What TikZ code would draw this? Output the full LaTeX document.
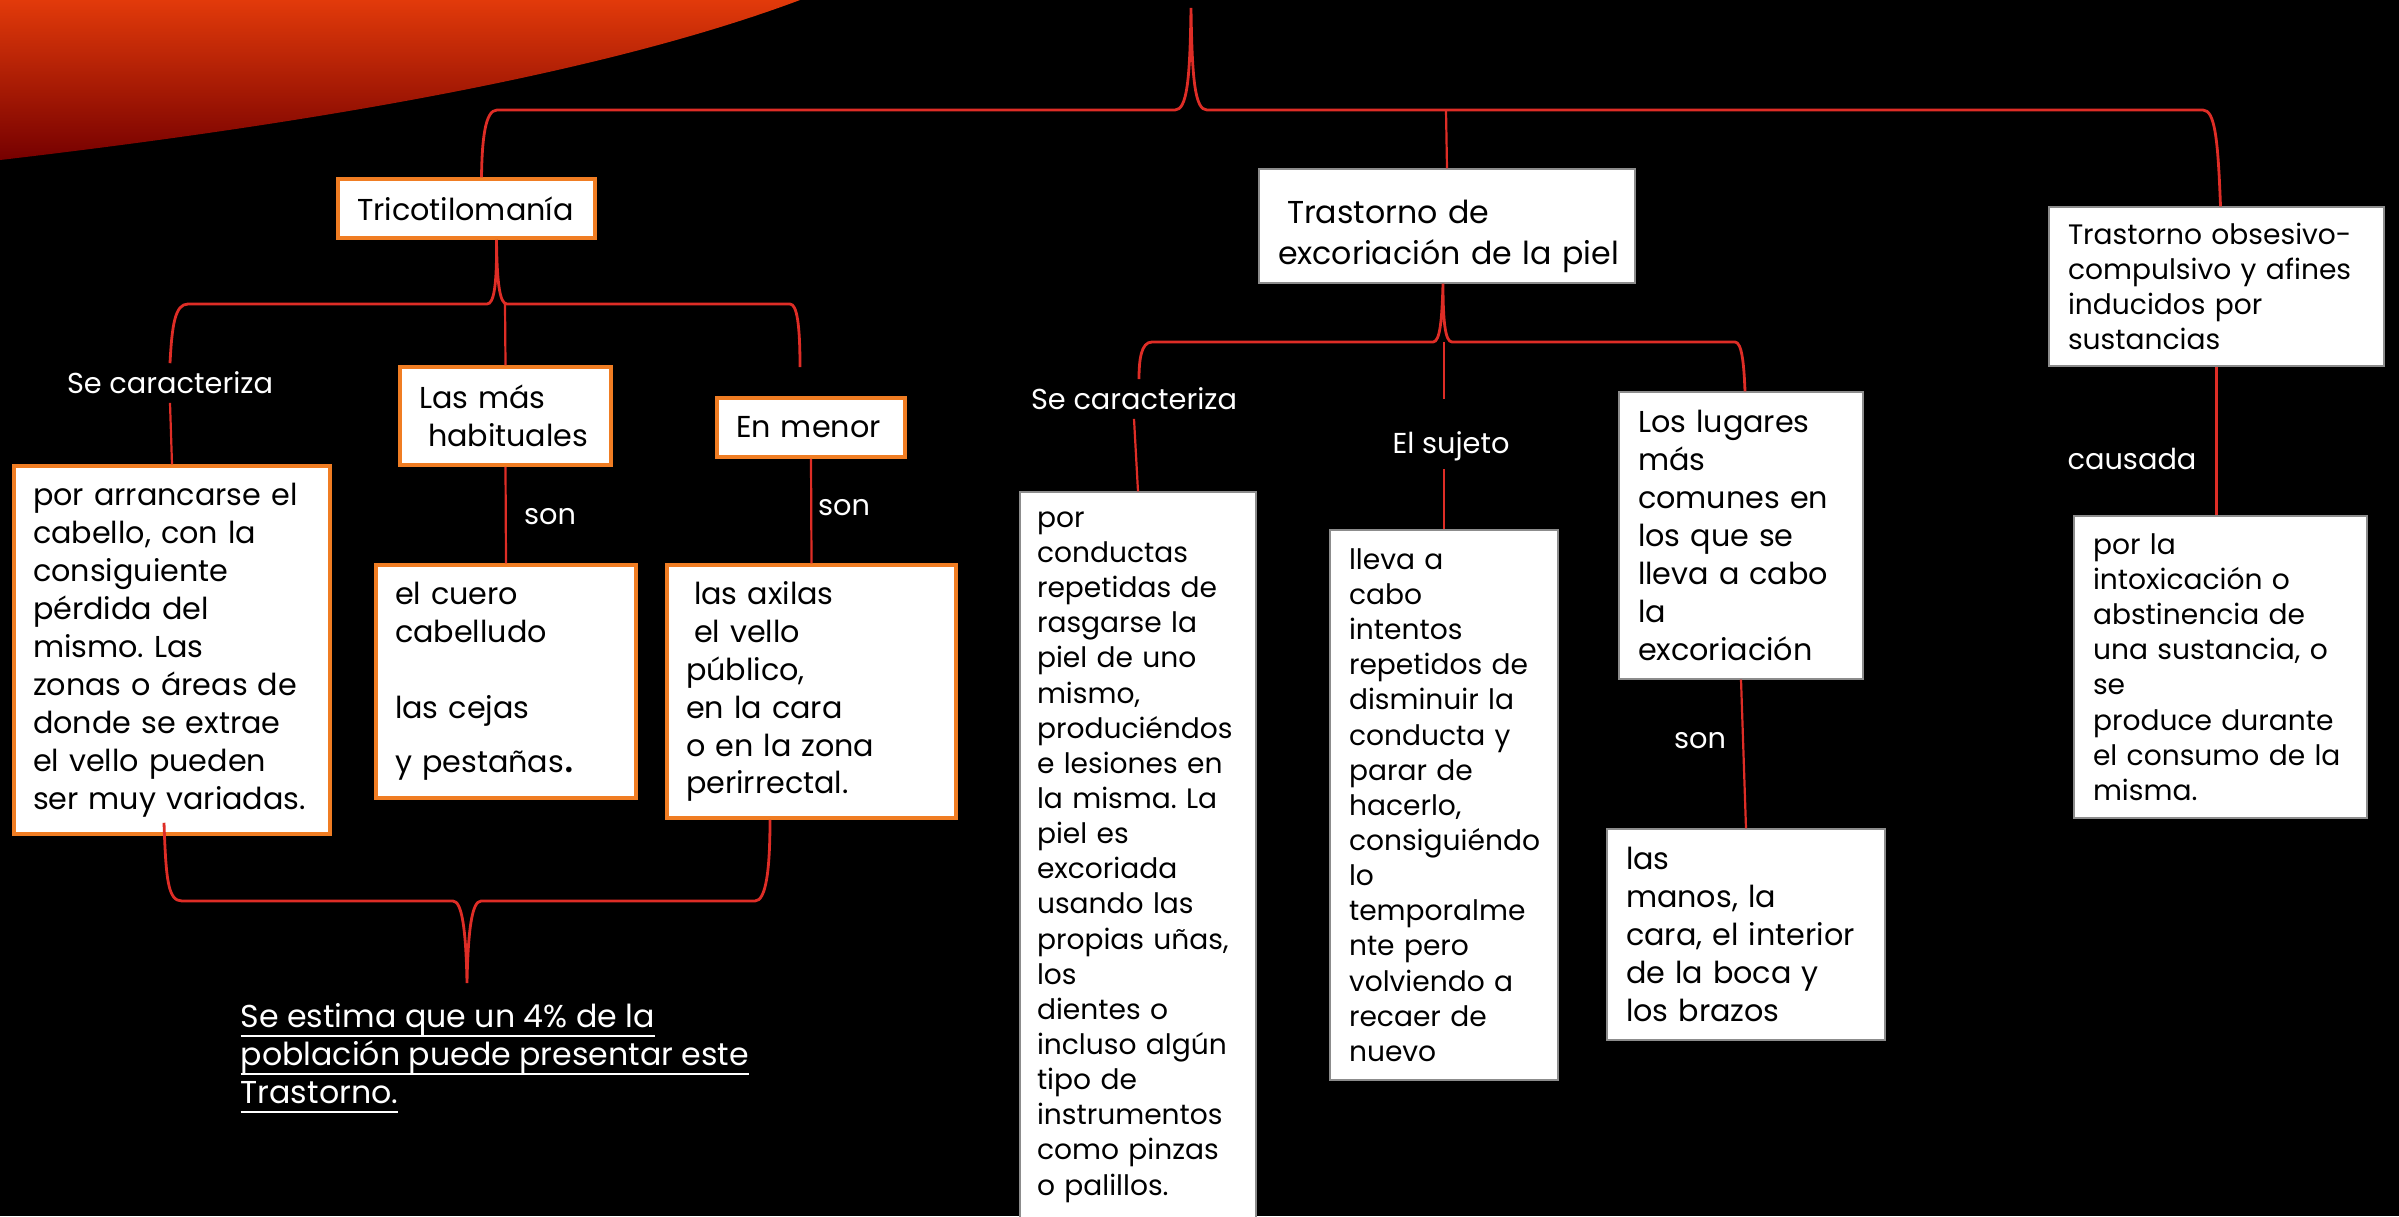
\documentclass[tikz,border=0pt]{standalone}
\usepackage{fontspec}
\setmainfont{Poppins}
\usetikzlibrary{calc}
\definecolor{rojo}{RGB}{222,45,38}
\definecolor{naranja}{RGB}{240,125,35}
\newcommand{\subr}[1]{\setbox0\hbox{#1}\rlap{\rule[-2.6pt]{\wd0}{0.5pt}}\box0}
\hyphenpenalty=10000
\frenchspacing

\begin{document}
\begin{tikzpicture}[x=0.1mm,y=-0.1mm,
  caja/.style={fill=white,text=black,align=left,inner xsep=1.9mm,inner ysep=0pt},
  cajan/.style={caja,draw=naranja,line width=0.35mm},
  cajag/.style={caja,draw=black!45,line width=0.12mm},
  medida/.style n args={3}{minimum width=#1,minimum height=#2,text width=#3},
  letrag/.style={font=\fontsize{8.6}{10.8}\selectfont},
  letrap/.style={font=\fontsize{8.0}{10}\selectfont},
  etiq/.style={text=white,font=\fontsize{8.2}{10}\selectfont,inner sep=0.8mm},
  llave/.style={draw=rojo,line width=0.28mm},
  linea/.style={draw=rojo,line width=0.22mm}]
  \fill[black] (0,0) rectangle (2399,1216); % 背景
  \useasboundingbox (0,0) rectangle (2399,1216);
  \shade[top color={rgb,255:red,226;green,58;blue,10},middle color={rgb,255:red,206;green,10;blue,2},
    bottom color={rgb,255:red,118;green,0;blue,0}]
    (0,0) -- (800,0) .. controls (600,75) and (300,125) .. (0,160) -- cycle; % 左上の赤い帯

  % 左の枝
  \node[cajan,letrag,medida={25.7mm}{5.9mm}{21.9mm}] (tric) at (466.5,208.5) {Tricotilomanía};
  \node[etiq] (carac1) at (170,383) {Se caracteriza};
  \node[cajan,letrag,medida={21.1mm}{9.8mm}{17.3mm}] (habit) at (505.5,416) {Las más\\\hspace*{0.9mm}habituales};
  \node[cajan,letrag,inner xsep=1.4mm,medida={18.8mm}{5.9mm}{16.0mm}] (menor) at (811,427.5) {\hspace*{0.5mm}En menor};
  \node[cajan,letrag,medida={31.6mm}{36.8mm}{27.8mm}] (arranc) at (172,650) {por arrancarse el\\cabello, con la\\consiguiente\\pérdida del\\mismo. Las\\zonas o áreas de\\donde se extrae\\el vello pueden\\ser muy variadas.};
  \node[etiq] (son1) at (550,517) {son};
  \node[etiq] (son2) at (844,508) {son};
  \node[cajan,letrag,medida={26.0mm}{23.3mm}{22.2mm}] (cuero) at (506,681.5) {el cuero\\cabelludo\\[10.8pt]las cejas\\[4.5pt]y pestañas{\fontsize{13}{13}\selectfont.}};
  \node[cajan,letrag,medida={28.9mm}{25.3mm}{25.1mm}] (axilas) at (811.5,691.5) {\hspace*{0.8mm}las axilas\\\hspace*{0.8mm}el vello\\público,\\en la cara\\o en la zona\\perirrectal.};
  \node[etiq,anchor=north west,align=left,font=\fontsize{9}{10.8}\selectfont,inner sep=0pt] (estima) at (240,1003)
    {\subr{Se estima que un 4\% de la}\\\subr{población puede presentar este}\\\subr{Trastorno.}};

  % 中央の枝
  \node[cajag,font=\fontsize{9.0}{11.7}\selectfont,inner xsep=1.6mm,medida={37.6mm}{11.4mm}{34.4mm}] (excor) at (1447,226) {\rule{0pt}{4.5mm}\hspace*{1.2mm}Trastorno de\\\hspace*{0.3mm}excoriación de la piel};
  \node[etiq] (carac2) at (1134,399) {Se caracteriza};
  \node[etiq] (sujeto) at (1451,446) {El sujeto};
  \node[cajag,letrap,inner xsep=1.7mm,medida={23.6mm}{73.0mm}{20.2mm}] (conduct) at (1138,857) {por\\conductas\\repetidas de\\rasgarse la\\piel de uno\\mismo,\\produciéndos\\e lesiones en\\la misma. La\\piel es\\excoriada\\usando las\\propias uñas,\\los\\dientes o\\incluso algún\\tipo de\\instrumentos\\como pinzas\\o palillos.};
  \node[cajag,letrap,medida={22.8mm}{55.0mm}{19.0mm}] (lleva) at (1444,805) {lleva a\\cabo\\intentos\\repetidos de\\disminuir la\\conducta y\\parar de\\hacerlo,\\consiguiéndo\\lo\\temporalme\\nte pero\\volviendo a\\recaer de\\nuevo};
  \node[cajag,letrag,medida={24.4mm}{28.7mm}{20.6mm}] (lugares) at (1741,535.5) {Los lugares\\más\\comunes en\\los que se\\lleva a cabo\\la\\excoriación};
  \node[etiq] (son3) at (1700,741) {son};
  \node[cajag,letrag,medida={27.8mm}{21.1mm}{24.0mm}] (manos) at (1746,934.5) {las\\manos, la\\cara, el interior\\de la boca y\\los brazos};

  % 右の枝
  \node[cajag,letrap,medida={33.5mm}{15.9mm}{29.7mm}] (ocd) at (2216.5,286.5) {Trastorno obsesivo-\\compulsivo y afines\\inducidos por\\sustancias};
  \node[etiq] (causada) at (2132,459) {causada};
  \node[cajag,letrap,inner xsep=1.7mm,medida={29.3mm}{30.2mm}{25.9mm}] (porla) at (2220.5,667) {\hspace*{0.2mm}por la\\\hspace*{0.2mm}intoxicación o\\\hspace*{0.2mm}abstinencia de\\\hspace*{0.2mm}una sustancia, o\\\hspace*{0.2mm}se\\\hspace*{0.2mm}produce durante\\\hspace*{0.2mm}el consumo de la\\\hspace*{0.2mm}misma.};

  % 上の大きな括弧
  \coordinate (cima) at (1191,8);
  \coordinate (cmed) at (1446,110);
  \draw[llave] ([xshift=1.5mm]tric.north) .. controls (482,140) and (485,110) .. (497,110) -- (1175,110)
    .. controls (1187,110) and (1190,80) .. (cima) .. controls (1192,80) and (1195,110) .. (1207,110)
    -- (2203,110) .. controls (2215,110) and (2218,140) .. ([xshift=0.4mm]ocd.north);
  \draw[linea] (cmed) -- (excor.north);

  % トリコチロマニアの括弧
  \coordinate (tder) at (800,367);
  \coordinate (tmed) at (505,304);
  \draw[llave] (carac1.north) .. controls (172,325) and (175,304) .. (188,304) -- (487,304)
    .. controls (494,304) and (497,285) .. ([xshift=3mm]tric.south) .. controls (497,285) and (500,304) .. (507,304)
    -- (790,304) .. controls (797,304) and (800,325) .. (tder);
  \draw[linea] (tmed) -- (habit.north);
  \draw[linea] (carac1.south) -- (arranc.north);
  \draw[linea] (habit.south) -- (cuero.north);
  \draw[linea] (menor.south) -- (axilas.north);

  % 下の括弧
  \coordinate (pico) at (467,983);
  \draw[llave] ([xshift=-0.8mm,yshift=1.3mm]arranc.south) .. controls (166,880) and (168,901) .. (182,901) -- (453,901)
    .. controls (462,901) and (466,930) .. (pico) .. controls (468,930) and (472,901) .. (481,901)
    -- (755,901) .. controls (766,901) and (770,870) .. ([xshift=-4.15mm]axilas.south);

  % 皮膚むしりの括弧
  \coordinate (xmed) at (1444,342);
  \coordinate (xfin) at (1444,399);
  \draw[llave] ([xshift=0.5mm]carac2.north) .. controls (1139,360) and (1141,342) .. (1152,342) -- (1433,342)
    .. controls (1440,342) and (1442,320) .. ([xshift=-0.4mm]excor.south) .. controls (1443,320) and (1445,342) .. (1452,342)
    -- (1735,342) .. controls (1742,342) and (1744,365) .. ([xshift=0.4mm]lugares.north);
  \draw[linea] (xmed) -- (xfin);
  \draw[linea] (carac2.south) -- (conduct.north);
  \draw[linea] (lleva.north |- sujeto.south) -- (lleva.north);
  \draw[linea] (lugares.south) -- (manos.north);
  \draw[linea] (ocd.south) -- (ocd.south |- porla.north);
\end{tikzpicture}
\end{document}
